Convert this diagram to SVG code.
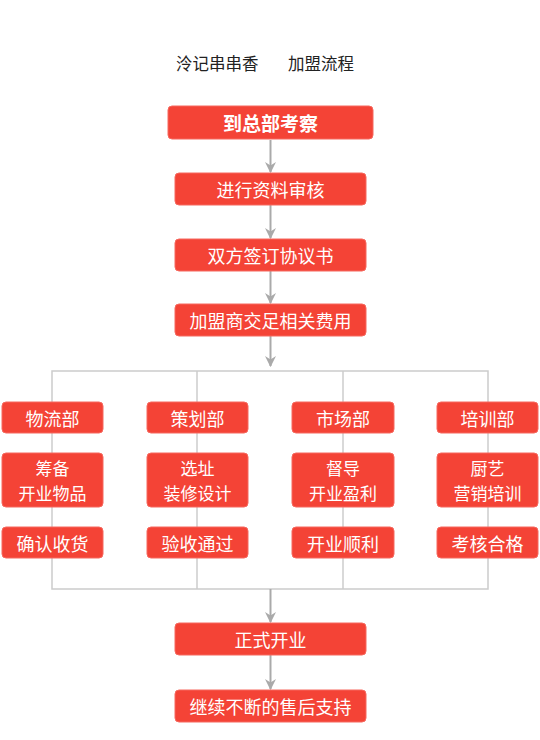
<svg xmlns="http://www.w3.org/2000/svg" width="540" height="740" viewBox="0 0 540 740">
<defs>
<style>
.box{fill:#f44336;stroke:#f6695f;stroke-width:1}
.t{fill:#ffffff;font-family:"Noto Sans CJK SC","Noto Sans",sans-serif;font-size:18px;text-anchor:middle;dominant-baseline:central}
.t2{font-size:17px}
.tb{font-weight:bold;font-size:19px}
.title{fill:#222222;font-family:"Noto Sans CJK SC","Noto Sans",sans-serif;font-size:16.5px;dominant-baseline:central}
.arr{stroke:#aaaaaa;stroke-width:2;fill:none}
.ln{stroke:#cccccc;stroke-width:1.5;fill:none}
</style>
<marker id="ah" viewBox="0 0 10 10" refX="9" refY="5" markerWidth="5.5" markerHeight="5.5" orient="auto" markerUnits="strokeWidth">
<path d="M0,0 L10,5 L0,10 L3,5 Z" fill="#aaaaaa"/>
</marker>
</defs>
<rect width="540" height="740" fill="#ffffff"/>
<g id="title">
<text class="title" x="176" y="63">泠记串串香</text>
<text class="title" x="288" y="63">加盟流程</text>
</g>
<g id="connectors">
<line class="arr" x1="270.5" y1="140" x2="270.5" y2="172" marker-end="url(#ah)"/>
<line class="arr" x1="270.5" y1="205" x2="270.5" y2="238" marker-end="url(#ah)"/>
<line class="arr" x1="270.5" y1="271" x2="270.5" y2="303" marker-end="url(#ah)"/>
<line class="arr" x1="270.5" y1="336" x2="270.5" y2="366" marker-end="url(#ah)"/>
<polyline class="ln" points="52,402 52,371 488,371 488,402"/>
<line class="ln" x1="197" y1="371" x2="197" y2="402"/>
<line class="ln" x1="343" y1="371" x2="343" y2="402"/>
<line class="ln" x1="52" y1="433" x2="52" y2="453"/>
<line class="ln" x1="197" y1="433" x2="197" y2="453"/>
<line class="ln" x1="343" y1="433" x2="343" y2="453"/>
<line class="ln" x1="488" y1="433" x2="488" y2="453"/>
<line class="ln" x1="52" y1="507" x2="52" y2="527"/>
<line class="ln" x1="197" y1="507" x2="197" y2="527"/>
<line class="ln" x1="343" y1="507" x2="343" y2="527"/>
<line class="ln" x1="488" y1="507" x2="488" y2="527"/>
<polyline class="ln" points="52,558 52,589 488,589 488,558"/>
<line class="ln" x1="197" y1="558" x2="197" y2="589"/>
<line class="ln" x1="343" y1="558" x2="343" y2="589"/>
<line class="arr" x1="270.5" y1="589" x2="270.5" y2="622" marker-end="url(#ah)"/>
<line class="arr" x1="270.5" y1="655" x2="270.5" y2="689" marker-end="url(#ah)"/>
</g>
<g id="n1"><rect class="box" x="168" y="106" width="205" height="33" rx="4"/><text class="t tb" x="270.5" y="122.5">到总部考察</text></g>
<g id="n2"><rect class="box" x="175" y="173" width="191" height="32" rx="4"/><text class="t" x="270.5" y="189">进行资料审核</text></g>
<g id="n3"><rect class="box" x="175" y="239" width="191" height="32" rx="4"/><text class="t" x="270.5" y="255">双方签订协议书</text></g>
<g id="n4"><rect class="box" x="175" y="304" width="191" height="32" rx="4"/><text class="t" x="270.5" y="320">加盟商交足相关费用</text></g>
<g id="c1a"><rect class="box" x="2" y="402" width="101" height="31" rx="4"/><text class="t" x="52.5" y="417.5">物流部</text></g>
<g id="c2a"><rect class="box" x="147" y="402" width="101" height="31" rx="4"/><text class="t" x="197.5" y="417.5">策划部</text></g>
<g id="c3a"><rect class="box" x="292" y="402" width="102" height="31" rx="4"/><text class="t" x="343" y="417.5">市场部</text></g>
<g id="c4a"><rect class="box" x="437" y="402" width="101" height="31" rx="4"/><text class="t" x="487.5" y="417.5">培训部</text></g>
<g id="c1b"><rect class="box" x="2" y="453" width="101" height="54" rx="4"/><text class="t t2" x="52.5" y="467.5">筹备</text><text class="t t2" x="52.5" y="492.5">开业物品</text></g>
<g id="c2b"><rect class="box" x="147" y="453" width="101" height="54" rx="4"/><text class="t t2" x="197.5" y="467.5">选址</text><text class="t t2" x="197.5" y="492.5">装修设计</text></g>
<g id="c3b"><rect class="box" x="292" y="453" width="102" height="54" rx="4"/><text class="t t2" x="343" y="467.5">督导</text><text class="t t2" x="343" y="492.5">开业盈利</text></g>
<g id="c4b"><rect class="box" x="437" y="453" width="101" height="54" rx="4"/><text class="t t2" x="487.5" y="467.5">厨艺</text><text class="t t2" x="487.5" y="492.5">营销培训</text></g>
<g id="c1c"><rect class="box" x="2" y="527" width="101" height="31" rx="4"/><text class="t" x="52.5" y="542.5">确认收货</text></g>
<g id="c2c"><rect class="box" x="147" y="527" width="101" height="31" rx="4"/><text class="t" x="197.5" y="542.5">验收通过</text></g>
<g id="c3c"><rect class="box" x="292" y="527" width="102" height="31" rx="4"/><text class="t" x="343" y="542.5">开业顺利</text></g>
<g id="c4c"><rect class="box" x="437" y="527" width="101" height="31" rx="4"/><text class="t" x="487.5" y="542.5">考核合格</text></g>
<g id="n5"><rect class="box" x="175" y="623" width="191" height="32" rx="4"/><text class="t" x="270.5" y="639">正式开业</text></g>
<g id="n6"><rect class="box" x="175" y="690" width="191" height="32" rx="4"/><text class="t" x="270.5" y="706">继续不断的售后支持</text></g>
</svg>
